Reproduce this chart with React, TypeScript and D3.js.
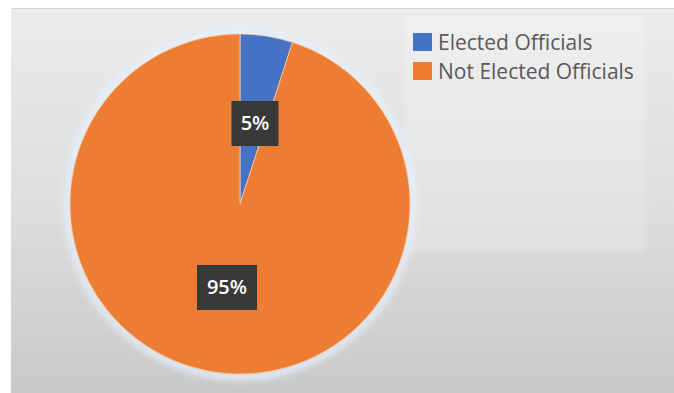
import React from "react";
import * as d3 from "d3";

const categories = ["Elected Officials", "Not Elected Officials"];
const values = [5, 95];
const labels = ["5%", "95%"];
const colors = ["#4472C4", "#ED7D31"];

const W = 674;
const H = 393;

export default function App() {
  const cx = 240;
  const cy = 204;
  const r = 170;
  const pie = d3.pie<number>().sort(null).value((d) => d);
  const arcs = pie(values);
  const arc = d3.arc<d3.PieArcDatum<number>>().innerRadius(0).outerRadius(r);
  const labelOffsets = [
    [15, -81],
    [-13, 83],
  ];
  const font = "'Open Sans', 'DejaVu Sans', sans-serif";
  return (
    <div style={{ position: "fixed", left: 0, top: 0, width: W, height: H, background: "#fff" }}>
      <svg width={W} height={H} style={{ display: "block" }}>
        <defs>
          <linearGradient id="bg" x1="0" y1="0" x2="0" y2="1">
            <stop offset="0" stopColor="#ececec" />
            <stop offset="0.5" stopColor="#dedede" />
            <stop offset="1" stopColor="#c9c9c9" />
          </linearGradient>
          <linearGradient id="lg" x1="0" y1="0" x2="0" y2="1">
            <stop offset="0" stopColor="#f3f3f3" />
            <stop offset="1" stopColor="#e6e6e6" />
          </linearGradient>
          <filter id="glow" x="-20%" y="-20%" width="140%" height="140%">
            <feGaussianBlur stdDeviation="3" />
          </filter>
          <filter id="soft" x="-10%" y="-10%" width="120%" height="120%">
            <feGaussianBlur stdDeviation="0.6" />
          </filter>
          <filter id="blurPanel" x="-5%" y="-5%" width="110%" height="110%">
            <feGaussianBlur stdDeviation="2" />
          </filter>
        </defs>
        <rect x={11} y={8} width={W - 11} height={H - 8} fill="url(#bg)" />
        <line x1={11} x2={W} y1={8.5} y2={8.5} stroke="#d4d4d4" />
        <rect x={405} y={18} width={240} height={234} fill="url(#lg)" opacity={0.6} filter="url(#blurPanel)" />
        <circle cx={cx} cy={cy} r={r + 3} fill="none" stroke="#e4f0fb" strokeWidth={6} filter="url(#glow)" />
        <g transform={`translate(${cx},${cy})`} filter="url(#soft)">
          {arcs.map((a, i) => (
            <path key={categories[i]} d={arc(a) || ""} fill={colors[i]} stroke="#f6c9a6" strokeWidth={0.8} />
          ))}
        </g>
        <g transform={`translate(${cx},${cy})`}>
          {arcs.map((a, i) => {
            const [x, y] = labelOffsets[i];
            const w = labels[i].length * 13 + 21;
            return (
              <g key={labels[i]} transform={`translate(${x},${y})`}>
                <rect x={-w / 2} y={-22} width={w} height={45} fill="#383838" />
                <text
                  textAnchor="middle"
                  dy="0.36em"
                  fill="#ffffff"
                  fontFamily={font}
                  fontSize={20}
                  fontWeight={600}
                >
                  {labels[i]}
                </text>
              </g>
            );
          })}
        </g>
        <g>
          {categories.map((c, i) => (
            <g key={c} transform={`translate(413,${33 + i * 29})`}>
              <rect x={0} y={0} width={19} height={18} fill={colors[i]} />
              <text
                x={25}
                y={9}
                dy="0.36em"
                fill="#595959"
                fontFamily={font}
                fontSize={21}
              >
                {c}
              </text>
            </g>
          ))}
        </g>
      </svg>
    </div>
  );
}
